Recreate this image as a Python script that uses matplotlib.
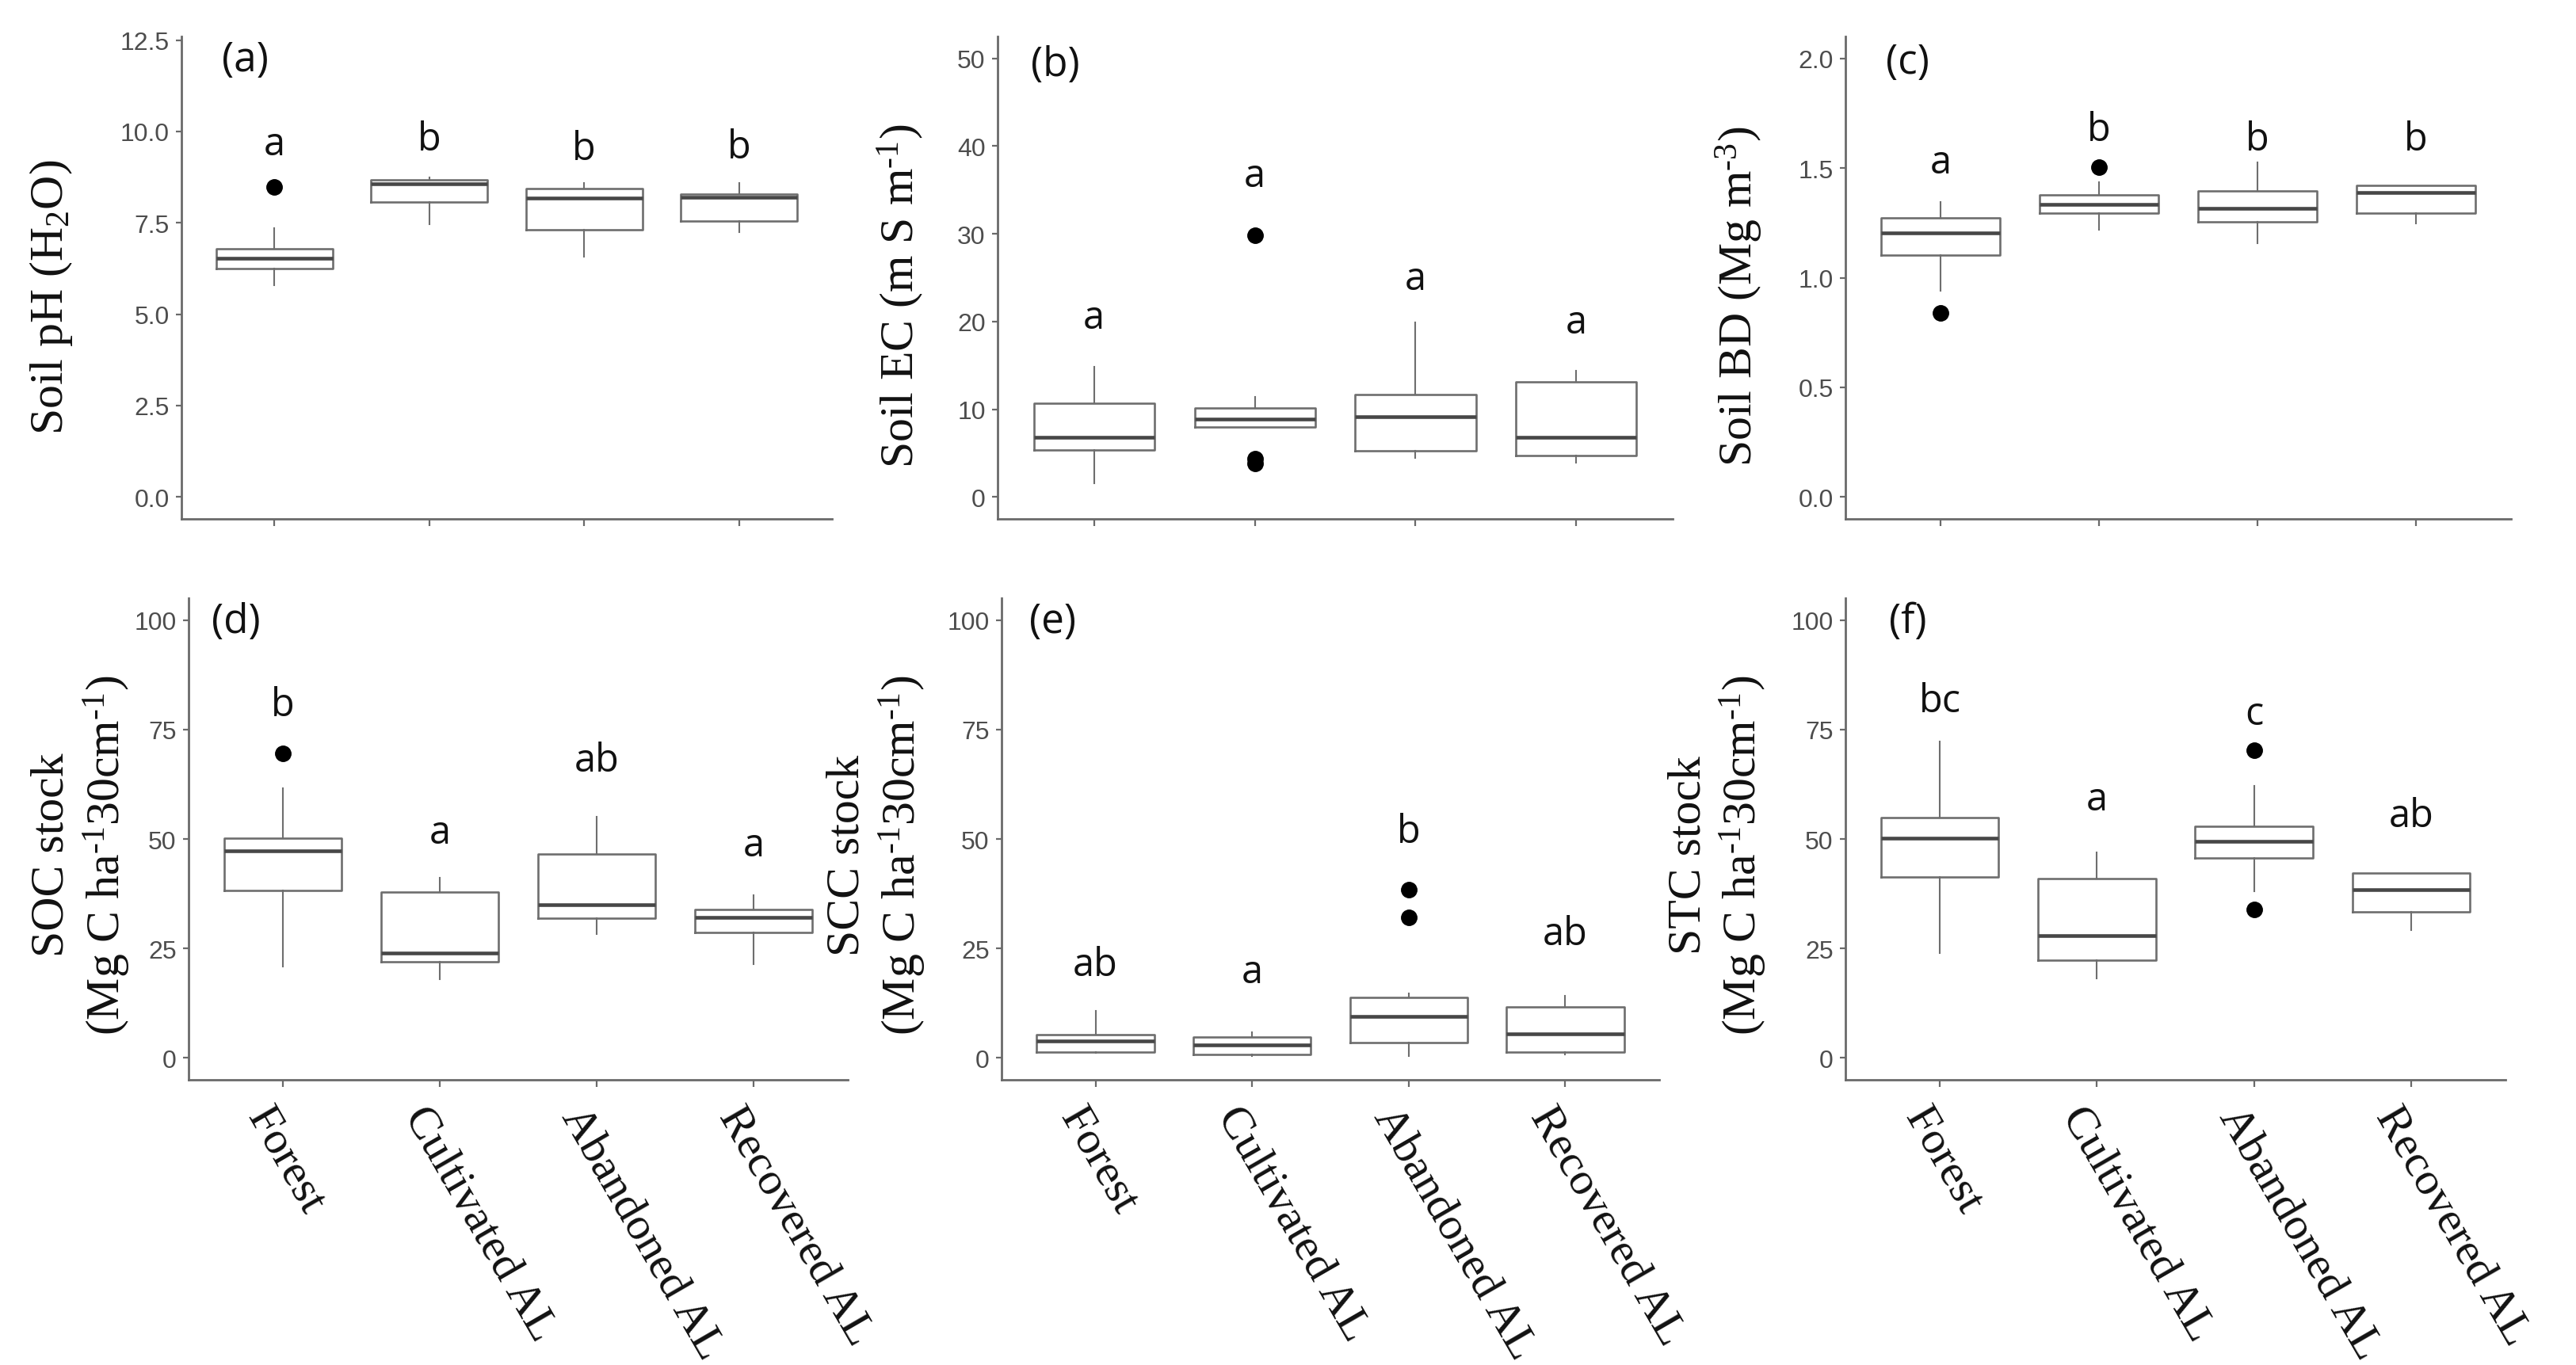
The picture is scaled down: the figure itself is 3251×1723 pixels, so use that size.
import matplotlib
matplotlib.use("Agg")
import matplotlib.pyplot as plt
from matplotlib.transforms import ScaledTranslation

plt.rcParams["mathtext.fontset"] = "custom"
plt.rcParams["mathtext.rm"] = "Liberation Serif"
plt.rcParams["mathtext.it"] = "Liberation Serif:italic"

# categorias
groups = ["Forest", "Cultivated AL", "Abandoned AL", "Recovered AL"]

# (a) pH
ph_q1 = [6.26, 8.07, 7.31, 7.56]
ph_med = [6.53, 8.57, 8.18, 8.20]
ph_q3 = [6.80, 8.68, 8.44, 8.29]
ph_lo = [5.80, 7.47, 6.57, 7.25]
ph_hi = [7.35, 8.75, 8.58, 8.58]
ph_out = [[8.49], [], [], []]
ph_let = ["a", "b", "b", "b"]
ph_let_y = [9.38, 9.49, 9.25, 9.28]

# (b) EC
ec_q1 = [5.36, 7.98, 5.28, 4.76]
ec_med = [6.77, 8.87, 9.19, 6.77]
ec_q3 = [10.69, 10.12, 11.69, 13.1]
ec_lo = [1.53, 7.98, 4.44, 3.95]
ec_hi = [14.84, 11.41, 19.88, 14.4]
ec_out = [[], [29.8, 4.4, 3.8], [], []]
ec_let = ["a", "a", "a", "a"]
ec_let_y = [19.3, 35.4, 23.7, 18.7]

# (c) BD
bd_q1 = [1.102, 1.295, 1.255, 1.295]
bd_med = [1.203, 1.335, 1.316, 1.390]
bd_q3 = [1.271, 1.379, 1.395, 1.421]
bd_lo = [0.940, 1.219, 1.158, 1.247]
bd_hi = [1.344, 1.437, 1.526, 1.421]
bd_out = [[0.839], [1.505], [], []]
bd_let = ["a", "b", "b", "b"]
bd_let_y = [1.48, 1.626, 1.585, 1.585]

# (d) SOC
soc_q1 = [38.2, 22.0, 31.9, 28.6]
soc_med = [47.3, 23.9, 34.9, 32.1]
soc_q3 = [50.2, 37.9, 46.5, 33.9]
soc_lo = [20.9, 18.0, 28.2, 21.5]
soc_hi = [61.5, 41.2, 55.1, 37.1]
soc_out = [[69.6], [], [], []]
soc_let = ["b", "a", "ab", "a"]
soc_let_y = [78.2, 49.1, 65.5, 46.2]

# (e) SCC
scc_q1 = [1.4, 0.8, 3.5, 1.4]
scc_med = [3.9, 2.9, 9.4, 5.5]
scc_q3 = [5.3, 4.7, 13.8, 11.6]
scc_lo = [1.2, 0.35, 0.35, 0.8]
scc_hi = [10.8, 5.9, 14.7, 14.1]
scc_out = [[], [], [38.5, 32.0], []]
scc_let = ["ab", "a", "b", "ab"]
scc_let_y = [18.8, 17.3, 49.2, 25.9]

# (f) STC
stc_q1 = [41.3, 22.4, 45.7, 33.3]
stc_med = [50.2, 28.0, 49.5, 38.4]
stc_q3 = [54.9, 41.0, 52.9, 42.3]
stc_lo = [24.0, 18.1, 38.1, 29.2]
stc_hi = [72.3, 46.9, 62.2, 42.3]
stc_out = [[], [], [70.2, 33.9], []]
stc_let = ["bc", "a", "c", "ab"]
stc_let_y = [79.1, 56.7, 76.2, 52.9]

HY = "\u2010"  # guion corto en los exponentes
stock_unit = "(Mg C ha$^{\\mathrm{" + HY + "1}}$30cm$^{\\mathrm{" + HY + "1}}$)"

panels = [
    ("(a)", ph_q1, ph_med, ph_q3, ph_lo, ph_hi, ph_out, ph_let, ph_let_y,
     "Soil pH (H$_{\\mathrm{2}}$O)", (-0.6, 12.6), [0, 2.5, 5, 7.5, 10, 12.5], "{:.1f}",
     (229, 1050, 47, 656), (-0.2005, 0.461), (0.098, 0.951)),
    ("(b)", ec_q1, ec_med, ec_q3, ec_lo, ec_hi, ec_out, ec_let, ec_let_y,
     "Soil EC (m S m$^{\\mathrm{" + HY + "1}}$)", (-2.5, 52.5), [0, 10, 20, 30, 40, 50], "{:.0f}",
     (1259, 2111, 47, 656), (-0.144, 0.463), (0.086, 0.941)),
    ("(c)", bd_q1, bd_med, bd_q3, bd_lo, bd_hi, bd_out, bd_let, bd_let_y,
     "Soil BD (Mg m$^{\\mathrm{" + HY + "3}}$)", (-0.1, 2.1), [0, 0.5, 1.0, 1.5, 2.0], "{:.1f}",
     (2329, 3169, 47, 656), (-0.160, 0.463), (0.093, 0.946)),
    ("(d)", soc_q1, soc_med, soc_q3, soc_lo, soc_hi, soc_out, soc_let, soc_let_y,
     "SOC stock\n" + stock_unit, (-5, 105), [0, 25, 50, 75, 100], "{:.0f}",
     (238, 1070, 756, 1364), (-0.163, 0.468), (0.072, 0.952)),
    ("(e)", scc_q1, scc_med, scc_q3, scc_lo, scc_hi, scc_out, scc_let, scc_let_y,
     "SCC stock\n" + stock_unit, (-5, 105), [0, 25, 50, 75, 100], "{:.0f}",
     (1264, 2094, 756, 1364), (-0.189, 0.468), (0.078, 0.952)),
    ("(f)", stc_q1, stc_med, stc_q3, stc_lo, stc_hi, stc_out, stc_let, stc_let_y,
     "STC stock\n" + stock_unit, (-5, 105), [0, 25, 50, 75, 100], "{:.0f}",
     (2329, 3162, 756, 1364), (-0.193, 0.468), (0.094, 0.952)),
]

W, H = 3251, 1724
fig = plt.figure(figsize=(W / 100, H / 100), dpi=100)
axis_col = "#6a6a6a"
box_col = "#6e6e6e"

for i, (tag, q1, med, q3, lo, hi, out, let, let_y, ylab, ylim, yt, fmt, pos, ylab_xy, tag_xy) in enumerate(panels):
    l, r, t, b = pos
    ax = fig.add_axes([l / W, 1 - b / H, (r - l) / W, (b - t) / H])
    stats = []
    for k in range(4):
        stats.append(dict(med=med[k], q1=q1[k], q3=q3[k], whislo=lo[k], whishi=hi[k], fliers=out[k]))
    ax.bxp(stats, positions=[1, 2, 3, 4], widths=0.75, showcaps=False,
           boxprops=dict(color=box_col, linewidth=1.9),
           medianprops=dict(color="#474747", linewidth=3.3),
           whiskerprops=dict(color=box_col, linewidth=1.5),
           flierprops=dict(marker="o", markerfacecolor="black", markeredgecolor="black",
                           markersize=14, linestyle="none"))
    for k in range(4):
        ax.text(k + 1, let_y[k], let[k], ha="center", va="baseline",
                fontsize=35, family="Open Sans", color="#111111")
    ax.text(tag_xy[0], tag_xy[1], tag, transform=ax.transAxes, ha="center", va="center",
            fontsize=37, family="Open Sans", color="#111111")
    ax.text(ylab_xy[0], ylab_xy[1], ylab, transform=ax.transAxes, rotation=90,
            ha="center", va="center", multialignment="center",
            fontsize=43, family="Liberation Serif", color="#111111")

    ax.set_xlim(0.4, 4.6)
    ax.set_ylim(*ylim)
    ax.set_yticks(yt)
    ax.set_yticklabels([fmt.format(v) for v in yt], family="Liberation Sans",
                       fontsize=23, color="#4d4d4d")
    ax.set_xticks([1, 2, 3, 4])
    for side in ["top", "right"]:
        ax.spines[side].set_visible(False)
    for side in ["left", "bottom"]:
        ax.spines[side].set_color(axis_col)
        ax.spines[side].set_linewidth(2.0)
    ax.tick_params(axis="y", length=5, width=1.6, color=axis_col, pad=6)
    ax.tick_params(axis="x", length=6.5, width=1.6, color=axis_col, pad=11)
    if i < 3:
        ax.set_xticklabels([])
    else:
        ax.set_xticklabels(groups, rotation=-60, ha="left", va="top", rotation_mode="anchor",
                           family="Liberation Serif", fontsize=42, color="#111111")
        for lab in ax.get_xticklabels():
            lab.set_transform(lab.get_transform() + ScaledTranslation(-0.10, 0, fig.dpi_scale_trans))

fig.savefig("out.png", dpi=100)
